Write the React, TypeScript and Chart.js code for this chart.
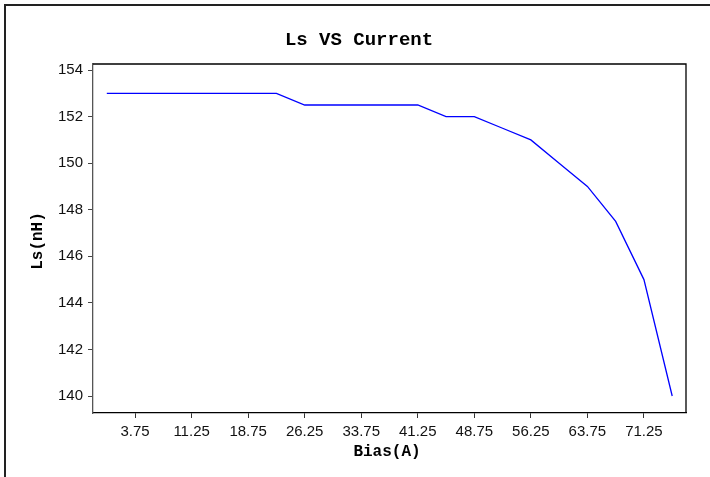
import React, { useEffect, useRef } from "react";
import { Chart, registerables } from "chart.js";

Chart.register(...registerables);

const biasA = [0, 3.75, 7.5, 11.25, 15, 18.75, 22.5, 26.25, 30, 33.75, 37.5, 41.25, 45, 48.75, 52.5, 56.25, 60, 63.75, 67.5, 71.25, 75];
const lsNH = [153, 153, 153, 153, 153, 153, 153, 152.5, 152.5, 152.5, 152.5, 152.5, 152, 152, 151.5, 151, 150, 149, 147.5, 145, 140];
const xTickValues = [3.75, 11.25, 18.75, 26.25, 33.75, 41.25, 48.75, 56.25, 63.75, 71.25];
const yTickValues = [140, 142, 144, 146, 148, 150, 152, 154];
const titleText = "Ls VS Current";
const xTitle = "Bias(A)";
const yTitle = "Ls(nH)";

export default function App() {
  const ref = useRef<HTMLCanvasElement | null>(null);

  useEffect(() => {
    if (!ref.current) return;
    const deco = {
      id: "deco",
      beforeDraw(chart: any) {
        const ctx = chart.ctx;
        ctx.save();
        ctx.fillStyle = "#fff";
        ctx.fillRect(0, 0, chart.width, chart.height);
        ctx.strokeStyle = "#222";
        ctx.lineWidth = 2;
        ctx.beginPath();
        ctx.moveTo(5, chart.height + 2);
        ctx.lineTo(5, 5);
        ctx.lineTo(chart.width + 2, 5);
        ctx.stroke();
        ctx.restore();
      },
      afterDraw(chart: any) {
        const ctx = chart.ctx;
        const a = chart.chartArea;
        ctx.save();
        ctx.strokeStyle = "#000";
        ctx.lineWidth = 1.3;
        ctx.beginPath();
        ctx.moveTo(a.left, a.top);
        ctx.lineTo(a.right, a.top);
        ctx.lineTo(a.right, a.bottom);
        ctx.stroke();
        ctx.fillStyle = "#000";
        ctx.textAlign = "center";
        ctx.textBaseline = "middle";
        ctx.font = "bold 19px 'Liberation Mono', 'DejaVu Sans Mono', monospace";
        ctx.fillText(titleText, 359, 40);
        ctx.font = "bold 16px 'Liberation Mono', 'DejaVu Sans Mono', monospace";
        ctx.fillText(xTitle, 387, 452);
        ctx.translate(38, 241);
        ctx.rotate(-Math.PI / 2);
        ctx.fillText(yTitle, 0, 0);
        ctx.restore();
      },
    };

    const chart = new Chart(ref.current, {
      type: "line",
      data: {
        datasets: [
          {
            data: biasA.map((x, i) => ({ x, y: lsNH[i] })),
            borderColor: "#0000ff",
            borderWidth: 1.3,
            pointRadius: 0,
            tension: 0,
            fill: false,
          },
        ],
      },
      options: {
        animation: false,
        responsive: false,
        events: [],
        layout: { padding: { left: 0, top: 64, right: 24, bottom: 0 } },
        plugins: { legend: { display: false }, tooltip: { enabled: false }, title: { display: false } },
        scales: {
          x: {
            type: "linear",
            min: -1.83,
            max: 76.83,
            afterBuildTicks: (s: any) => {
              s.ticks = xTickValues.map((v) => ({ value: v }));
            },
            afterFit: (s: any) => {
              s.height = 64;
            },
            border: { display: true, color: "#000", width: 1.3 },
            grid: { drawOnChartArea: false, drawTicks: true, tickLength: 5, color: "#333" },
            ticks: {
              autoSkip: false,
              maxRotation: 0,
              padding: 5,
              color: "#111",
              font: { family: "'Liberation Sans', Arial, sans-serif", size: 15 },
              callback: (v: any) => String(v),
            },
          },
          y: {
            type: "linear",
            min: 139.27,
            max: 154.26,
            afterBuildTicks: (s: any) => {
              s.ticks = yTickValues.map((v) => ({ value: v }));
            },
            afterFit: (s: any) => {
              s.width = 93;
            },
            border: { display: true, color: "#555", width: 1.3 },
            grid: { drawOnChartArea: false, drawTicks: true, tickLength: 5, color: "#444" },
            ticks: {
              autoSkip: false,
              padding: 5,
              color: "#111",
              font: { family: "'Liberation Sans', Arial, sans-serif", size: 15 },
              callback: (v: any) => String(v),
            },
          },
        },
      },
      plugins: [deco],
    });
    return () => chart.destroy();
  }, []);

  return (
    <div style={{ position: "absolute", left: 0, top: 0, width: 710, height: 477 }}>
      <canvas ref={ref} width={710} height={477} style={{ display: "block" }} />
    </div>
  );
}
